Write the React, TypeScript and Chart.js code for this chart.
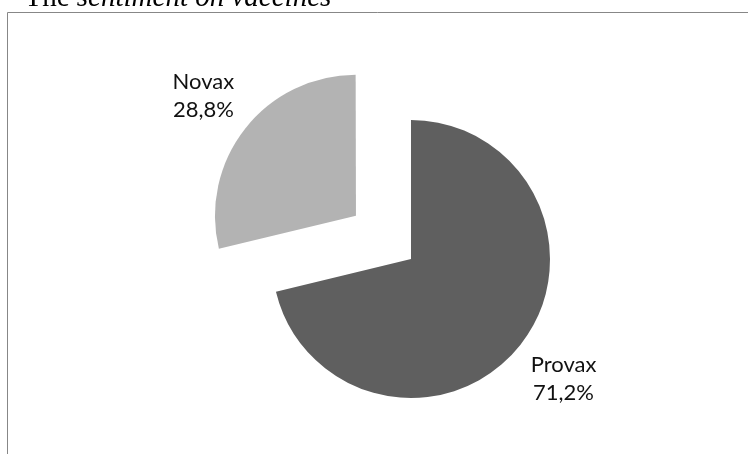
import React, { useEffect, useRef } from "react";
import { Chart, registerables } from "chart.js";

Chart.register(...registerables);

const categories = ["Provax", "Novax"];
const shares = [71.2, 28.8];
const shareLabels = ["71,2%", "28,8%"];
const sliceColors = ["#5f5f5f", "#b3b3b3"];
const sliceOffsets = [0, 280];
const titlePlain = "The ";
const titleItalic = "sentiment on vaccines";

const framePlugin = {
  id: "frameAndTitle",
  beforeDraw(chart: any) {
    const ctx = chart.ctx;
    ctx.save();
    ctx.fillStyle = "#ffffff";
    ctx.fillRect(0, 0, chart.width, chart.height);
    ctx.strokeStyle = "#878787";
    ctx.lineWidth = 1;
    ctx.beginPath();
    ctx.moveTo(7.5, chart.height);
    ctx.lineTo(7.5, 12.5);
    ctx.lineTo(chart.width, 12.5);
    ctx.stroke();
    ctx.fillStyle = "#000000";
    ctx.textBaseline = "alphabetic";
    ctx.textAlign = "left";
    ctx.font = "29px 'Liberation Serif', serif";
    const x0 = 24.5;
    const y0 = 5.5;
    ctx.fillText(titlePlain, x0, y0);
    const w = ctx.measureText(titlePlain).width;
    ctx.font = "italic 29px 'Liberation Serif', serif";
    ctx.fillText(titleItalic, x0 + w, y0);
    ctx.restore();
  },
};

const labelPlugin = {
  id: "sliceLabels",
  afterDatasetsDraw(chart: any) {
    const ctx = chart.ctx;
    const meta = chart.getDatasetMeta(0);
    ctx.save();
    ctx.fillStyle = "#111111";
    ctx.font = "22px Lato, 'Liberation Sans', sans-serif";
    ctx.textAlign = "center";
    ctx.textBaseline = "middle";
    meta.data.forEach((arc: any, i: number) => {
      const { x, y, startAngle, endAngle, outerRadius } = arc;
      const off = (arc.options.offset || 0) / 4;
      const half = (startAngle + endAngle) / 2;
      const cx = x + Math.cos(half) * off;
      const cy = y + Math.sin(half) * off;
      const d = outerRadius + 55;
      const lx = cx + Math.cos(half) * d;
      const ly = cy + Math.sin(half) * d;
      ctx.fillText(categories[i], lx, ly - 14);
      ctx.fillText(shareLabels[i], lx, ly + 14);
    });
    ctx.restore();
  },
};

export default function App() {
  const ref = useRef<HTMLCanvasElement>(null);
  useEffect(() => {
    if (!ref.current) return;
    const chart = new Chart(ref.current, {
      type: "pie",
      data: {
        labels: categories,
        datasets: [
          {
            data: shares,
            backgroundColor: sliceColors,
            offset: sliceOffsets,
            borderWidth: 0,
            clip: false,
          } as any,
        ],
      },
      options: {
        responsive: false,
        animation: false,
        devicePixelRatio: 1,
        radius: 139,
        layout: { padding: { left: 74, top: 64, right: 0, bottom: 0 } },
        plugins: {
          legend: { display: false },
          tooltip: { enabled: false },
          title: { display: false },
        },
        events: [],
      } as any,
      plugins: [framePlugin, labelPlugin],
    });
    return () => chart.destroy();
  }, []);
  return (
    <div style={{ position: "absolute", left: 0, top: 0, width: 748, height: 454 }}>
      <canvas ref={ref} width={748} height={454} style={{ display: "block" }} />
    </div>
  );
}
